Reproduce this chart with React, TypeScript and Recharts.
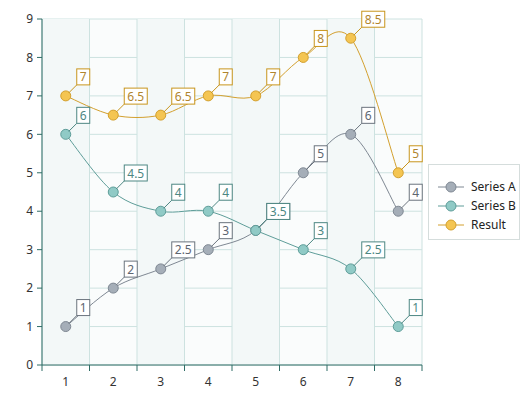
import React from "react"
import {
  LineChart,
  Line,
  XAxis,
  YAxis,
  CartesianGrid,
  ReferenceArea,
  ReferenceLine,
  LabelList,
} from "recharts"

const categories = [1, 2, 3, 4, 5, 6, 7, 8]
const seriesA = [1, 2, 2.5, 3, 3.5, 5, 6, 4]
const seriesB = [6, 4.5, 4, 4, 3.5, 3, 2.5, 1]
const result = [7, 6.5, 6.5, 7, 7, 8, 8.5, 5]
const yTicks = [0, 1, 2, 3, 4, 5, 6, 7, 8, 9]

const FONT = "'Segoe UI', 'Noto Sans', sans-serif"
const AXIS = "#2f6d66"
const GRID = "#cde2e0"

const SERIES = [
  { key: "a", name: "Series A", line: "#7f8893", fill: "#a5aeb8", box: "#6b747e", text: "#5e6670" },
  { key: "b", name: "Series B", line: "#5e9d99", fill: "#90cac6", box: "#4d8783", text: "#4d8783" },
  { key: "r", name: "Result", line: "#d3a02e", fill: "#f4c552", box: "#c8951c", text: "#b0852f" },
]

const data = categories.map((c, i) => ({ x: c, a: seriesA[i], b: seriesB[i], r: result[i] }))

// band edges (half-way between categories)
const edges = [categories[0] - 0.5, ...categories.map((c) => c + 0.5)]
const xTicks = [...edges, ...categories].sort((p, q) => p - q)

// catmull-rom style curve, goes through every point
const cardinal = (context: any) => {
  let pts: number[][] = []
  return {
    areaStart() {},
    areaEnd() {},
    lineStart() {
      pts = []
    },
    point(x: number, y: number) {
      pts.push([+x, +y])
    },
    lineEnd() {
      if (!pts.length) return
      context.moveTo(pts[0][0], pts[0][1])
      for (let i = 0; i < pts.length - 1; i++) {
        const p0 = pts[i - 1] ?? pts[i]
        const p1 = pts[i]
        const p2 = pts[i + 1]
        const p3 = pts[i + 2] ?? p2
        context.bezierCurveTo(
          p1[0] + (p2[0] - p0[0]) / 6,
          p1[1] + (p2[1] - p0[1]) / 6,
          p2[0] - (p3[0] - p1[0]) / 6,
          p2[1] - (p3[1] - p1[1]) / 6,
          p2[0],
          p2[1]
        )
      }
    },
  }
}

const XTick = (props: any) => {
  const { x, y, payload } = props
  const v = payload.value
  if (Number.isInteger(v)) {
    return (
      <text x={x} y={y + 13} textAnchor="middle" fontSize={12} fontFamily={FONT} fill="#333">
        {v}
      </text>
    )
  }
  return <line x1={x} x2={x} y1={y - 8} y2={y - 2} stroke={AXIS} />
}

const textWidth = (s: string) =>
  s.split("").reduce((w, ch) => w + (ch === "." ? 3 : 7), 0) + 6

const makeLabel = (box: string, text: string) => (props: any) => {
  const { x, y, value } = props
  if (x == null || y == null) return null
  const s = String(value)
  const w = textWidth(s)
  const bx = x + 11
  const by = y - 11
  return (
    <g>
      <line x1={x + 3} y1={y - 3} x2={bx} y2={by} stroke={box} />
      <rect x={bx} y={by - 16} width={w} height={16} fill="#fff" stroke={box} />
      <text
        x={bx + w / 2}
        y={by - 8}
        textAnchor="middle"
        dominantBaseline="central"
        fontSize={12}
        fontFamily={FONT}
        fill={text}
      >
        {s}
      </text>
    </g>
  )
}

const LegendBox = () => (
  <div
    style={{
      position: "absolute",
      left: 428,
      top: 164,
      width: 92,
      height: 76,
      boxSizing: "border-box",
      border: "1px solid #d5dddc",
      background: "#fff",
      fontFamily: FONT,
      fontSize: 12,
      color: "#222",
      paddingTop: 12,
    }}
  >
    {SERIES.map((s) => (
      <div key={s.key} style={{ display: "flex", alignItems: "center", height: 19, paddingLeft: 9 }}>
        <svg width={26} height={12} style={{ marginRight: 7 }}>
          <line x1={0} x2={26} y1={6} y2={6} stroke={s.line} />
          <circle cx={13} cy={6} r={5} fill={s.fill} stroke={s.line} />
        </svg>
        <span>{s.name}</span>
      </div>
    ))}
  </div>
)

export default function App() {
  return (
    <div style={{ position: "absolute", left: 0, top: 0, width: 532, height: 395, background: "#fff" }}>
      <LineChart width={532} height={395} data={data} margin={{ top: 19, right: 110, bottom: 0, left: 0 }}>
        <CartesianGrid vertical={false} stroke={GRID} fill="#fafcfc" />
        {categories
          .filter((_, i) => i % 2 === 0)
          .map((c) => (
            <ReferenceArea key={c} x1={c - 0.5} x2={c + 0.5} y1={0} y2={9} fill="#f3f8f8" fillOpacity={1} strokeOpacity={0} />
          ))}
        {edges.map((e) => (
          <ReferenceLine key={e} x={e} stroke={GRID} />
        ))}
        <XAxis
          dataKey="x"
          type="number"
          domain={[edges[0], edges[edges.length - 1]]}
          ticks={xTicks}
          interval={0}
          tickLine={false}
          tickSize={6}
          tickMargin={2}
          tick={<XTick />}
          height={30}
          stroke={AXIS}
        />
        <YAxis
          type="number"
          domain={[0, 9]}
          ticks={yTicks}
          interval={0}
          width={42}
          tickSize={5}
          tickMargin={4}
          stroke={AXIS}
          tick={{ fill: "#333", fontSize: 12, fontFamily: FONT }}
        />
        {SERIES.map((s) => (
          <Line
            key={s.key}
            dataKey={s.key}
            name={s.name}
            type={cardinal as any}
            stroke={s.line}
            strokeWidth={1}
            dot={{ r: 5, fill: s.fill, stroke: s.line, strokeWidth: 1 }}
            isAnimationActive={false}
          >
            <LabelList dataKey={s.key} content={makeLabel(s.box, s.text)} />
          </Line>
        ))}
      </LineChart>
      <LegendBox />
    </div>
  )
}
